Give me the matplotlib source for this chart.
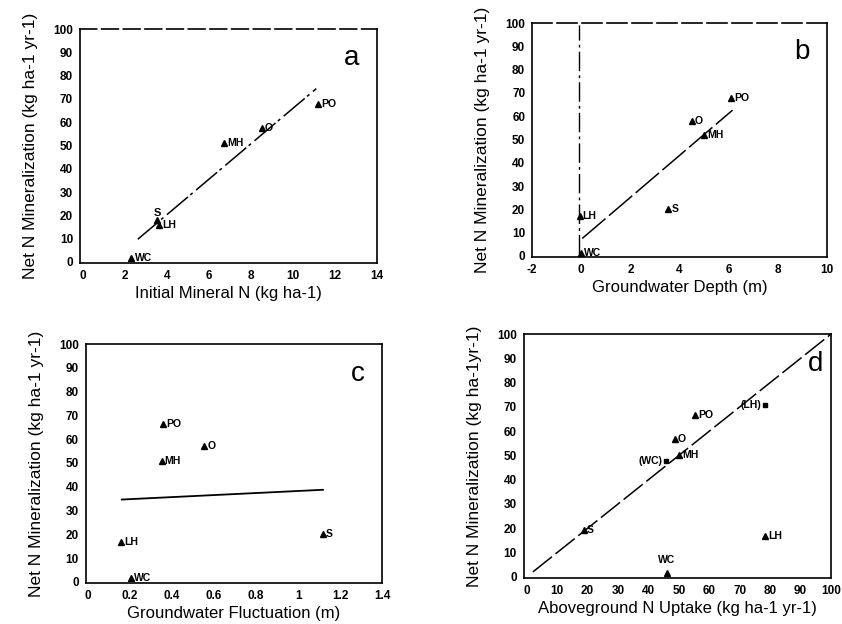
import numpy as np
import matplotlib
matplotlib.use("Agg")
import matplotlib.pyplot as plt

plt.rcParams['font.family'] = ['Liberation Sans', 'DejaVu Sans']

# panel a: initial mineral N vs net N mineralization
a_sites = ['WC', 'LH', 'S', 'MH', 'O', 'PO']
a_x = [2.3, 3.6, 3.5, 6.7, 8.5, 11.2]
a_y = [1.5, 16, 18, 51, 57.5, 68]
a_fit_x = [2.6, 11.1]
a_fit_y = [9.7, 74.4]

# panel b: groundwater depth
b_sites = ['LH', 'WC', 'S', 'O', 'MH', 'PO']
b_x = [-0.07, 0.0, 3.55, 4.5, 5.0, 6.1]
b_y = [17, 1.4, 20, 58, 52, 68]
b_fit_x = [0.04, 6.16]
b_fit_y = [7.5, 62.6]

# panel c: groundwater fluctuation
c_sites = ['PO', 'O', 'MH', 'LH', 'WC', 'S']
c_x = [0.356, 0.553, 0.35, 0.157, 0.204, 1.118]
c_y = [66.5, 57, 50.6, 16.8, 1.7, 20.2]
c_fit_x = [0.161, 1.118]
c_fit_y = [34.6, 38.7]

# panel d: aboveground N uptake
d_sites = ['PO', 'O', 'MH', 'S', 'LH', 'WC']
d_x = [55.3, 48.6, 50.1, 18.7, 78.3, 46.0]
d_y = [66.5, 56.8, 50.1, 19.1, 16.9, 1.7]
d_sq_sites = ['(WC)', '(LH)']
d_sq_x = [45.8, 78.3]
d_sq_y = [47.5, 70.6]
d_line = [2, 101]

ylab = 'Net N Mineralization (kg ha-1 yr-1)'
tickfont = dict(fontsize=8.5, fontweight='bold')


def setup(ax, xlim, xticks, xticklabels, xlabel, ylabel, letter, lx=0.94):
    ax.set_xlim(*xlim)
    ax.set_ylim(-0.5, 100)
    ax.set_xticks(xticks)
    ax.set_xticklabels(xticklabels, **tickfont)
    ax.set_yticks(range(0, 101, 10))
    ax.set_yticklabels([str(v) for v in range(0, 101, 10)], **tickfont)
    ax.tick_params(length=0, pad=5)
    ax.set_xlabel(xlabel, fontsize=12, labelpad=3)
    ax.set_ylabel(ylabel, fontsize=12.5, labelpad=11)
    ax.text(lx, 0.93, letter, transform=ax.transAxes, fontsize=20,
            ha='right', va='top')
    for s in ax.spines.values():
        s.set_linewidth(1.2)


def tri(ax, xs, ys, names, dx):
    ax.plot(xs, ys, '^', color='black', markersize=4.5, linestyle='none')
    for x, y, n in zip(xs, ys, names):
        ax.text(x + dx, y, n, fontsize=7.5, fontweight='bold', va='center')


fig = plt.figure(figsize=(8.42, 6.24), dpi=100)

# a
ax = fig.add_axes([0.095, 0.5785, 0.353, 0.375])
setup(ax, (-0.15, 14), range(0, 15, 2), [str(v) for v in range(0, 15, 2)],
      'Initial Mineral N (kg ha-1)', ylab, 'a')
ax.plot(a_fit_x, a_fit_y, color='black', lw=1.1, linestyle=(0, (18, 2, 2, 3)))
ax.plot(a_x, a_y, '^', color='black', markersize=4.5)
for x, y, n in zip(a_x, a_y, a_sites):
    if n == 'S':
        ax.text(x - 0.15, y + 1, n, fontsize=8, fontweight='bold', va='bottom')
    else:
        ax.text(x + 0.15, y, n, fontsize=7.5, fontweight='bold', va='center')
ax.spines['top'].set_linestyle((0, (10, 3)))

# b
ax = fig.add_axes([0.632, 0.588, 0.350, 0.375])
setup(ax, (-2, 10), range(-2, 11, 2), [str(v) for v in range(-2, 11, 2)],
      'Groundwater Depth (m)', ylab, 'b')
ax.plot([-0.1, -0.1], [1, 99], color='black', lw=1.0,
        linestyle=(0, (14, 3, 2, 3)))
ax.plot(b_fit_x, b_fit_y, color='black', lw=1.1, linestyle=(0, (20, 3)))
tri(ax, b_x, b_y, b_sites, 0.12)
ax.spines['top'].set_linestyle((0, (12, 3)))

# c
ax = fig.add_axes([0.102, 0.0657, 0.352, 0.383])
setup(ax, (-0.01, 1.4), np.arange(0, 1.41, 0.2),
      ['0', '0.2', '0.4', '0.6', '0.8', '1', '1.2', '1.4'],
      'Groundwater Fluctuation (m)', ylab, 'c')
ax.plot(c_fit_x, c_fit_y, color='black', lw=1.3)
tri(ax, c_x, c_y, c_sites, 0.015)

# d
ax = fig.add_axes([0.622, 0.0737, 0.365, 0.391])
setup(ax, (-1, 99), range(0, 101, 10), [str(v) for v in range(0, 101, 10)],
      'Aboveground N Uptake (kg ha-1 yr-1)',
      'Net N Mineralization (kg ha-1yr-1)', 'd', lx=0.975)
ax.plot(d_line, d_line, color='black', lw=1.1, linestyle=(0, (16, 3)))
for x, y, n in zip(d_x, d_y, d_sites):
    ax.plot(x, y, '^', color='black', markersize=4.5)
    if n == 'WC':
        ax.text(x, y + 3, n, fontsize=7.5, fontweight='bold', ha='center',
                va='bottom')
    else:
        ax.text(x + 1, y, n, fontsize=7.5, fontweight='bold', va='center')
ax.plot(d_sq_x, d_sq_y, 's', color='black', markersize=3.5)
for x, y, n in zip(d_sq_x, d_sq_y, d_sq_sites):
    ax.text(x - 1.2, y, n, fontsize=7.5, fontweight='bold', ha='right',
            va='center')

fig.savefig('out.png', dpi=100)
